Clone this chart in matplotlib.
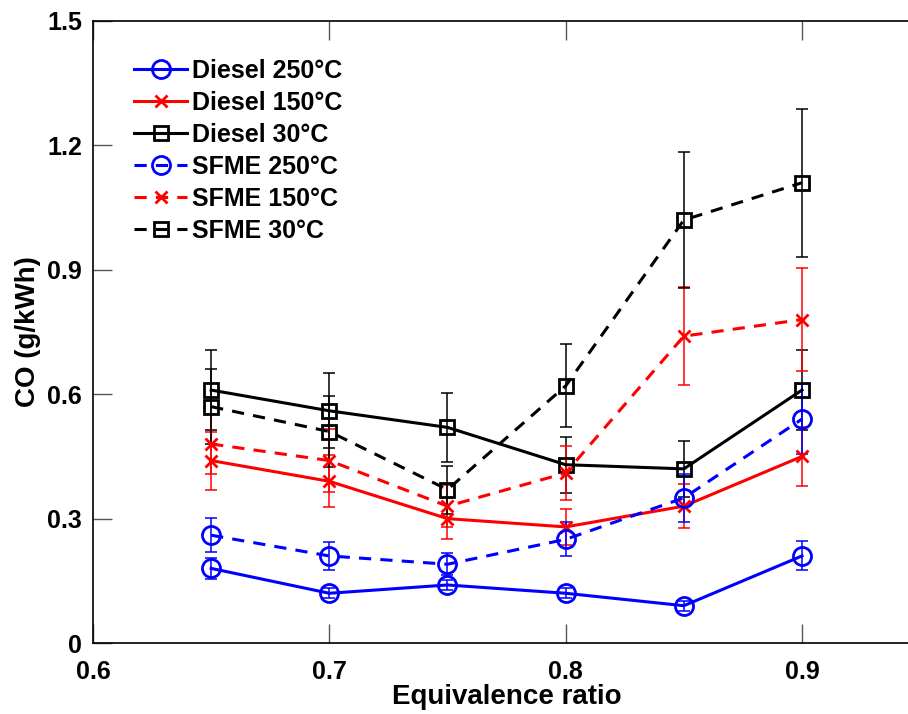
"""
CO emissions vs equivalence ratio - Diesel and SFME at three intake temperatures
"""

import matplotlib
matplotlib.use("Agg")
import matplotlib.pyplot as plt

plt.rcParams["font.family"] = ["Liberation Sans", "DejaVu Sans"]
plt.rcParams["font.weight"] = "bold"

phi = [0.65, 0.7, 0.75, 0.8, 0.85, 0.9]

# Diesel
diesel_250 = [0.18, 0.12, 0.14, 0.12, 0.09, 0.21]
diesel_250_err = [0.026, 0.012, 0.012, 0.012, 0.012, 0.035]
diesel_150 = [0.44, 0.39, 0.30, 0.28, 0.33, 0.45]
diesel_150_err = [0.07, 0.063, 0.05, 0.043, 0.053, 0.071]
diesel_30 = [0.61, 0.56, 0.52, 0.43, 0.42, 0.61]
diesel_30_err = [0.097, 0.09, 0.083, 0.068, 0.068, 0.097]

# SFME
sfme_250 = [0.26, 0.21, 0.19, 0.25, 0.35, 0.54]
sfme_250_err = [0.041, 0.033, 0.026, 0.041, 0.058, 0.085]
sfme_150 = [0.48, 0.44, 0.33, 0.41, 0.74, 0.78]
sfme_150_err = [0.073, 0.075, 0.05, 0.066, 0.118, 0.125]
sfme_30 = [0.57, 0.51, 0.37, 0.62, 1.02, 1.11]
sfme_30_err = [0.09, 0.085, 0.058, 0.1, 0.163, 0.178]

series = [
    ("Diesel 250\u00b0C", diesel_250, diesel_250_err, "#0000ff", "-", "o"),
    ("Diesel 150\u00b0C", diesel_150, diesel_150_err, "#ff0000", "-", "x"),
    ("Diesel 30\u00b0C", diesel_30, diesel_30_err, "#000000", "-", "s"),
    ("SFME 250\u00b0C", sfme_250, sfme_250_err, "#0000ff", "--", "o"),
    ("SFME 150\u00b0C", sfme_150, sfme_150_err, "#ff0000", "--", "x"),
    ("SFME 30\u00b0C", sfme_30, sfme_30_err, "#000000", "--", "s"),
]

marker_size = {"o": 13, "x": 9, "s": 10}

fig = plt.figure(figsize=(9.08, 7.14), dpi=100)
ax = fig.add_axes([0.1024, 0.0994, 0.911, 0.8712])

handles = []
for label, vals, errs, color, ls, mk in series:
    ax.errorbar(phi, vals, yerr=errs, fmt="none", ecolor=color,
                elinewidth=1.1, capsize=4, capthick=1.1, zorder=2)
    (h,) = ax.plot(phi, vals, linestyle=ls, color=color, linewidth=2.2,
                   marker=mk, markersize=marker_size[mk],
                   markerfacecolor="none", markeredgecolor=color,
                   markeredgewidth=2.0, dashes=(4, 3) if ls == "--" else (None, None),
                   label=label, zorder=3)
    handles.append(h)

ax.set_xlim(0.6, 0.95)
ax.set_ylim(0, 1.5)
ax.set_xticks([0.6, 0.7, 0.8, 0.9])
ax.set_yticks([0, 0.3, 0.6, 0.9, 1.2, 1.5])
ax.set_xticklabels(["0.6", "0.7", "0.8", "0.9"])
ax.set_yticklabels(["0", "0.3", "0.6", "0.9", "1.2", "1.5"])

ax.tick_params(axis="both", direction="in", length=14, width=1,
               color="#555555", top=True, right=False, labelsize=18)
ax.tick_params(axis="x", pad=12)
ax.tick_params(axis="y", pad=8)
for sp in ax.spines.values():
    sp.set_linewidth(1.2)
ax.spines["right"].set_visible(False)

ax.set_xlabel("Equivalence ratio", fontsize=20, fontweight="bold", labelpad=0)
ax.set_ylabel("CO (g/kWh)", fontsize=20, fontweight="bold", labelpad=4)

leg = ax.legend(handles=handles, loc="upper left", frameon=False,
                fontsize=18, numpoints=1, handlelength=2.1, handletextpad=0.2,
                labelspacing=0.32, borderaxespad=0.0,
                bbox_to_anchor=(0.038, 0.955))
for t in leg.get_texts():
    t.set_fontweight("bold")

plt.savefig("out.png", dpi=100)
plt.close()
